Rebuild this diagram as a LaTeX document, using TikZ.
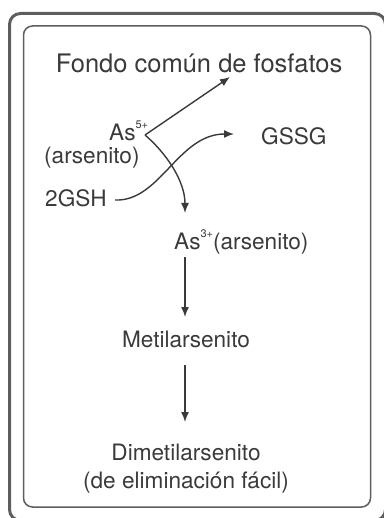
\documentclass[tikz,border=0pt]{standalone}
\usepackage{fontspec}
\setmainfont{TeX Gyre Heros}
\usetikzlibrary{arrows.meta}
\definecolor{txt}{HTML}{3A3A3A}
\definecolor{framec}{HTML}{5E5E5E}
\newcommand\chg[1]{\raisebox{12pt}{\fontsize{11}{11}\selectfont #1}}
\begin{document}
\begin{tikzpicture}[x=1pt,y=-1pt,
  lbl/.style={font=\fontsize{22.6}{27}\selectfont, text=txt, inner sep=0pt, anchor=base west},
  lblc/.style={lbl, anchor=base},
  ttl/.style={font=\fontsize{25.5}{30}\selectfont, text=txt, inner sep=0pt, anchor=base},
  arr/.style={-{Latex[length=10pt,width=8pt]}, line width=1.4pt, draw=txt},
  outerframe/.style={draw=framec, line width=3pt, rounded corners=11pt},
  innerframe/.style={draw=framec, line width=1.5pt, rounded corners=9pt}]
\useasboundingbox (0,0) rectangle (383,518);
\draw[outerframe] (9.5,13.5) rectangle (385.5,520.5);
\draw[innerframe] (23.5,26) rectangle (370.5,507);

\node[ttl] (fondo) at (199,72.7) {Fondo común de fosfatos};
\node[lbl] (as5) at (109,141) {As\chg{5+}};
\node[lbl] (arsA) at (44,164) {(arsenito)};
\node[lbl] (gsh) at (45,207) {2GSH};
\node[lbl] (gssg) at (261,145) {GSSG};
\node[lbl] (as3) at (174,249) {As\chg{3+}(arsenito)};
\node[lblc] (metil) at (186,347) {Metilarsenito};
\node[lblc] (dimetil) at (186,460) {Dimetilarsenito};
\node[lblc] (elim) at (186,488) {(de eliminación fácil)};

\coordinate (v) at (145,135);
\coordinate (tF) at (230,77);
\coordinate (t3) at (185,213);
\coordinate (gs) at (115,200);
\coordinate (tG) at (234,134);
\draw[arr] (v) -- (tF);
\draw[arr] (v) .. controls (165,152) and (185,180) .. (t3);
\draw[arr] (gs) .. controls (160,202) and (178,134) .. (tG);

\coordinate (m1) at (185,257);
\coordinate (m1t) at (185,317);
\coordinate (m2) at (185,365);
\coordinate (m2t) at (185,422);
\draw[arr] (m1) -- (m1t);
\draw[arr] (m2) -- (m2t);
\end{tikzpicture}
\end{document}
